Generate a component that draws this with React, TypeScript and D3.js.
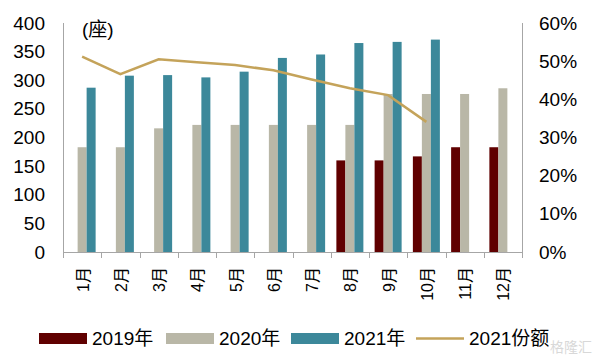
import React from 'react';
import * as d3 from 'd3';

const months = ['1月', '2月', '3月', '4月', '5月', '6月', '7月', '8月', '9月', '10月', '11月', '12月'];
const v2019 = [null, null, null, null, null, null, null, 160, 160, 167, 183, 183];
const v2020 = [183, 183, 216, 222, 222, 222, 222, 222, 276, 276, 276, 286];
const v2021 = [287, 308, 309, 305, 315, 339, 345, 365, 367, 371, null, null];
const share2021 = [0.512, 0.466, 0.505, 0.497, 0.49, 0.476, 0.452, 0.429, 0.411, 0.341];
const leftTicks = [0, 50, 100, 150, 200, 250, 300, 350, 400];
const rightTicks = [0, 0.1, 0.2, 0.3, 0.4, 0.5, 0.6];

const colors = { y2019: '#600000', y2020: '#B9B7A7', y2021: '#3C889A', line: '#C4A35A' };
const font = '"Liberation Sans", Arial, "Noto Sans CJK SC", sans-serif';

function App() {
  const width = 600;
  const height = 361;
  const left = 63;
  const right = 522;
  const top = 23;
  const bottom = 252;

  const x = d3.scaleBand().domain(months).range([left, right]);
  const bw = 9;
  const yL = d3.scaleLinear().domain([0, 400]).range([bottom, top]);
  const yR = d3.scaleLinear().domain([0, 0.6]).range([bottom, top]);

  const series = [
    { key: 'y2019', values: v2019, off: -1.5 * bw },
    { key: 'y2020', values: v2020, off: -0.5 * bw },
    { key: 'y2021', values: v2021, off: 0.5 * bw },
  ];

  const line = d3
    .line<number>()
    .x((_, i) => x(months[i])! + x.bandwidth() / 2)
    .y((d) => yR(d));

  const legend = [
    { label: '2019年', color: colors.y2019, x: 39, type: 'rect' },
    { label: '2020年', color: colors.y2020, x: 166, type: 'rect' },
    { label: '2021年', color: colors.y2021, x: 291, type: 'rect' },
    { label: '2021份额', color: colors.line, x: 416, type: 'line' },
  ];

  return (
    <svg
      width={width}
      height={height}
      style={{ position: 'absolute', left: 0, top: 0, background: '#fff' }}
      fontFamily={font}
    >
      {series.map((s) =>
        s.values.map((v, i) =>
          v == null ? null : (
            <rect
              key={s.key + i}
              x={x(months[i])! + x.bandwidth() / 2 + s.off}
              y={yL(v)}
              width={bw}
              height={bottom - yL(v)}
              fill={colors[s.key as keyof typeof colors]}
            />
          )
        )
      )}
      <path d={line(share2021)!} fill="none" stroke={colors.line} strokeWidth={2.5} />

      <g stroke="#A6A6A6" strokeWidth={1} fill="none">
        <path d={`M${left + 0.5},${top} V${bottom + 0.5}`} />
        <path d={`M${right + 0.5},${top} V${bottom + 0.5}`} />
        <path d={`M${left},${bottom + 0.5} H${right + 0.5}`} />
        {months.map((m) => (
          <path key={m} d={`M${Math.round(x(m)!) + 0.5},${bottom} v6`} />
        ))}
        <path d={`M${right + 0.5},${bottom} v6`} />
      </g>

      <g fontSize={19} fill="#000">
        {leftTicks.map((t) => (
          <text key={t} x={45} y={yL(t)} textAnchor="end" dominantBaseline="central">
            {t}
          </text>
        ))}
        {rightTicks.map((t) => (
          <text key={t} x={539} y={yR(t)} dominantBaseline="central">
            {d3.format('.0%')(t)}
          </text>
        ))}
        <text x={82} y={29} dominantBaseline="central">(座)</text>
      </g>

      <g fontSize={16} fill="#000">
        {months.map((m) => (
          <text
            key={m}
            transform={`translate(${x(m)! + x.bandwidth() / 2 + 1},${267}) rotate(-90)`}
            textAnchor="end"
            dominantBaseline="central"
          >
            {m}
          </text>
        ))}
      </g>

      <g fontSize={19}>
        {legend.map((l) => (
          <g key={l.label} transform={`translate(${l.x},338.5)`}>
            {l.type === 'rect' ? (
              <rect x={0} y={-5.5} width={48} height={11} fill={l.color} />
            ) : (
              <line x1={0} x2={48} y1={0} y2={0} stroke={l.color} strokeWidth={2.5} />
            )}
            <text x={53} y={0} dominantBaseline="central" fill="#000">
              {l.label}
            </text>
          </g>
        ))}
      </g>
      <text x={592} y={347} textAnchor="end" fontSize={14} fill="#D8D8D8" dominantBaseline="central">
        格隆汇
      </text>
    </svg>
  );
}

export default App;
